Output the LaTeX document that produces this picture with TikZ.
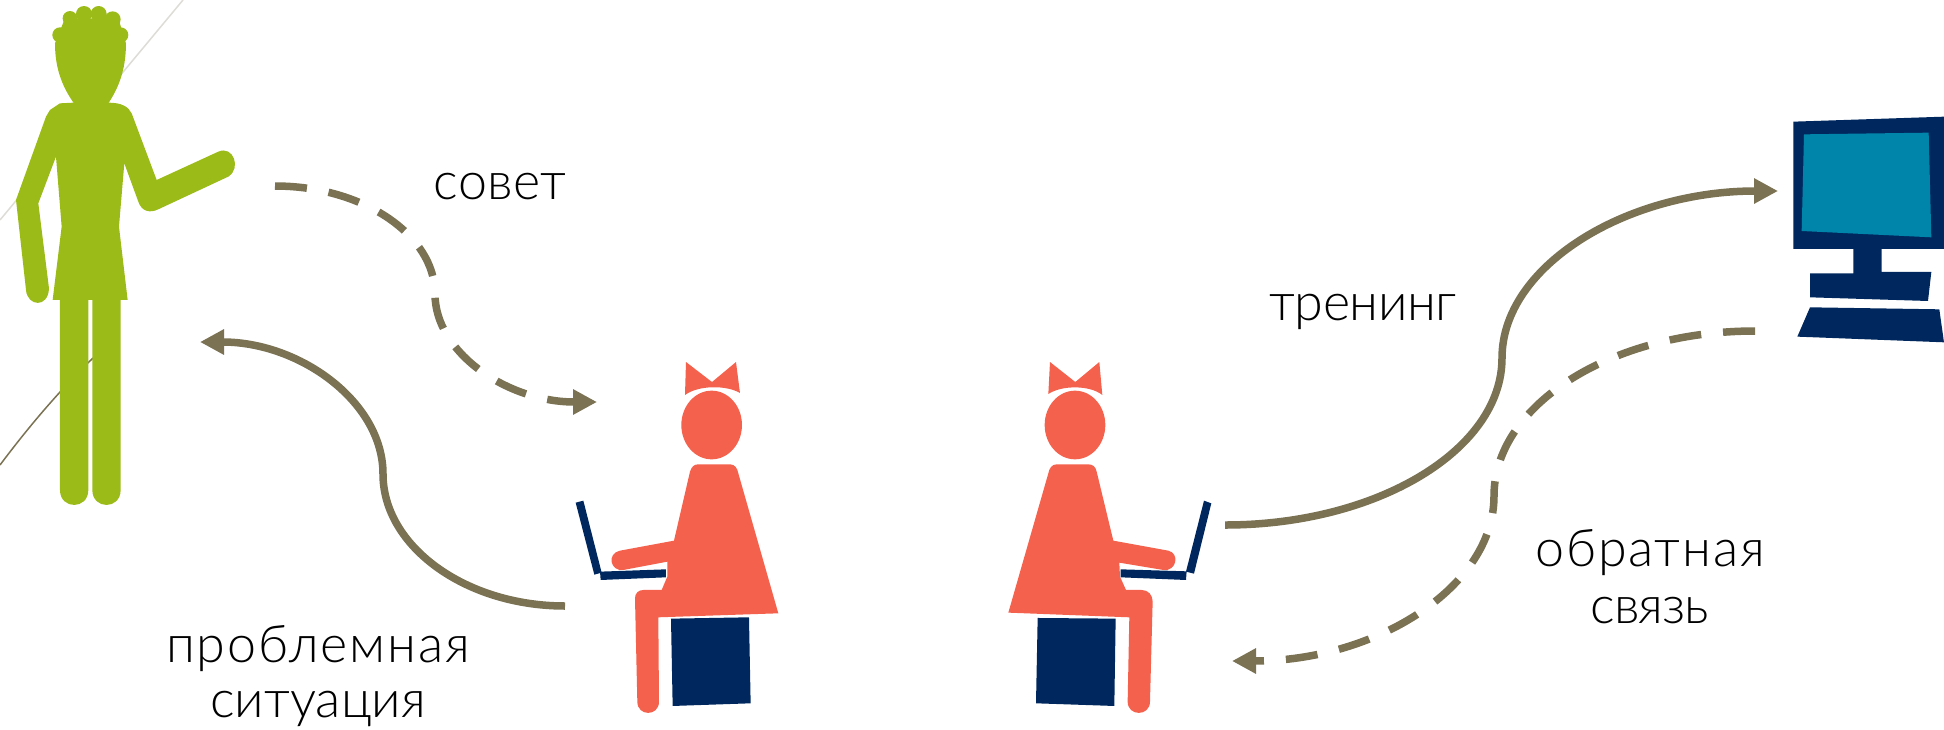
\documentclass[tikz,border=0pt]{standalone}
\usepackage{fontspec}
\setmainfont{Lato Light}[LetterSpace=3.5]
\usetikzlibrary{arrows.meta}
\definecolor{olive}{HTML}{7A7253}
\definecolor{leaf}{HTML}{9BBB19}
\definecolor{coral}{HTML}{F4614D}
\definecolor{navy}{HTML}{00285F}
\definecolor{teal}{HTML}{0085AA}
\definecolor{faintline}{HTML}{DDDCD6}
\tikzset{
 conn/.style={draw=olive,line width=7.5pt,-{Triangle[length=24pt,width=24pt]}},
 dashconn/.style={conn,dash pattern=on 32pt off 22pt},
 lbl/.style={text=black,font=\fontsize{52}{56}\selectfont,align=center,inner sep=0pt},
 zoomed/.style={x=0.3333pt,y=-0.3333pt},
}
\begin{document}
\begin{tikzpicture}[x=1pt,y=-1pt]
\useasboundingbox (0,0) rectangle (1944,729);
% background thin lines
\draw[faintline,line width=1.5pt] (183,0) -- (0,220);
\draw[olive,line width=1.5pt] (93,358) .. controls (60,390) and (30,425) .. (0,465);
% man
\begin{scope}[shift={(0,0)},zoomed]
\fill[leaf] (165,130) .. controls (165,210) and (190,265) .. (222,310) -- (325,310) .. controls (355,265) and (378,210) .. (378,130) -- (355,55) -- (195,55) -- cycle;
\foreach \cx/\cy/\r in {210/55/22,252/42/24,296/42/24,338/58/24,180/105/23,362/105/23} \fill[leaf] (\cx,\cy) circle[radius=\r];
\fill[leaf] (220,308) -- (180,310) -- (150,330) -- (138,350) -- (48,600) -- (78,870) .. controls (82,920) and (145,925) .. (147,865) -- (115,610) -- (168,470) -- (185,680) -- (158,900) -- (383,900) -- (357,680) -- (373,490) -- (415,605) .. controls (425,635) and (450,640) .. (475,628) -- (685,530) .. controls (725,505) and (700,435) .. (655,455) -- (470,540) -- (395,340) .. controls (385,320) and (365,308) .. (325,308) -- cycle;
\fill[leaf] (180,895) -- (265,895) -- (265,1470) .. controls (265,1530) and (180,1530) .. (180,1470) -- cycle;
\fill[leaf] (277,895) -- (362,895) -- (362,1470) .. controls (362,1530) and (277,1530) .. (277,1470) -- cycle;
\end{scope}
% woman 1
\begin{scope}[shift={(560,380)},zoomed]
\fill[coral] (378,-54) -- (456,6) -- (528,-54) -- (540,39) .. controls (500,15) and (415,15) .. (375,45) -- cycle;
\fill[coral] (455,135) ellipse[x radius=91,y radius=103];
\fill[coral] (415,253) -- (510,253) .. controls (525,253) and (532,265) .. (535,280) -- (655,700) -- (295,712) -- (297,965) .. controls (297,1010) and (232,1010) .. (232,965) -- (225,655) .. controls (225,640) and (235,630) .. (250,630) -- (305,630) -- (322,590) -- (322,545) -- (190,570) .. controls (150,575) and (140,520) .. (180,512) -- (342,482) -- (390,275) .. controls (395,260) and (402,253) .. (415,253) -- cycle;
\fill[navy] (47,368) -- (70,362) -- (125,578) -- (103,584) -- cycle;
\fill[navy] (120,575) -- (318,568) -- (318,592) -- (122,600) -- cycle;
\fill[navy] (333,716) -- (567,712) -- (572,970) -- (338,978) -- cycle;
\end{scope}
% woman 2
\begin{scope}[shift={(1000,380)},zoomed]
\fill[coral] (150,-54) -- (226,6) -- (298,-54) -- (307,45) .. controls (270,15) and (185,15) .. (145,42) -- cycle;
\fill[coral] (225,135) ellipse[x radius=91,y radius=103];
\fill[coral] (170,253) -- (265,253) .. controls (280,253) and (287,262) .. (290,275) -- (340,482) -- (505,512) .. controls (540,520) and (530,575) .. (490,570) -- (358,548) -- (360,590) -- (378,630) -- (425,630) .. controls (445,630) and (458,645) .. (458,665) -- (450,965) .. controls (450,1010) and (383,1010) .. (383,965) -- (388,712) -- (25,698) -- (145,280) .. controls (148,265) and (155,253) .. (170,253) -- cycle;
\fill[navy] (612,362) -- (634,370) -- (582,581) -- (558,575) -- cycle;
\fill[navy] (362,568) -- (560,574) -- (558,600) -- (362,592) -- cycle;
\fill[navy] (113,714) -- (347,716) -- (343,978) -- (108,970) -- cycle;
\end{scope}
% computer
\begin{scope}[shift={(1770,100)},zoomed]
\fill[navy] (70,65) -- (522,50) -- (522,447) -- (335,447) -- (335,516) -- (484,516) -- (474,603) -- (120,592) -- (120,520) -- (250,520) -- (250,447) -- (70,447) -- cycle;
\fill[teal] (102,103) -- (476,98) -- (484,412) -- (95,393) -- cycle;
\fill[navy] (120,622) -- (508,628) -- (522,727) -- (82,710) -- cycle;
\end{scope}
% connector ends
\coordinate (a1) at (275,186); \coordinate (a2) at (597,402);
\coordinate (b1) at (565,606); \coordinate (b2) at (200,342);
\coordinate (c1) at (1225,525); \coordinate (c2) at (1778,191);
\coordinate (d1) at (1755,331); \coordinate (d2) at (1232,661);
\path[dashconn] (a1) .. controls (363,186) and (435,235) .. (435,294) .. controls (435,353) and (508,402) .. (a2);
\path[conn] (b1) .. controls (465,606) and (383,546) .. (383,474) .. controls (383,402) and (300,342) .. (b2);
\path[conn] (c1) .. controls (1377,525) and (1502,450) .. (1502,358) .. controls (1502,266) and (1626,191) .. (c2);
\path[dashconn] (d1) .. controls (1611,331) and (1494,405) .. (1494,496) .. controls (1494,587) and (1376,661) .. (d2);
% labels
\node[lbl,anchor=base] (sovet) at (500,199) {\addfontfeature{LetterSpace=1}совет};
\node[lbl,anchor=base] (trening) at (1363,320) {\addfontfeature{LetterSpace=-1}тренинг};
\node[lbl] (prob) at (318,676) {проблемная\\[-1pt]{\addfontfeature{LetterSpace=0}ситуация}};
\node[lbl] (obr) at (1650,577) {обратная\\[1pt]{\addfontfeature{LetterSpace=-2}связь}};
\end{tikzpicture}
\end{document}
